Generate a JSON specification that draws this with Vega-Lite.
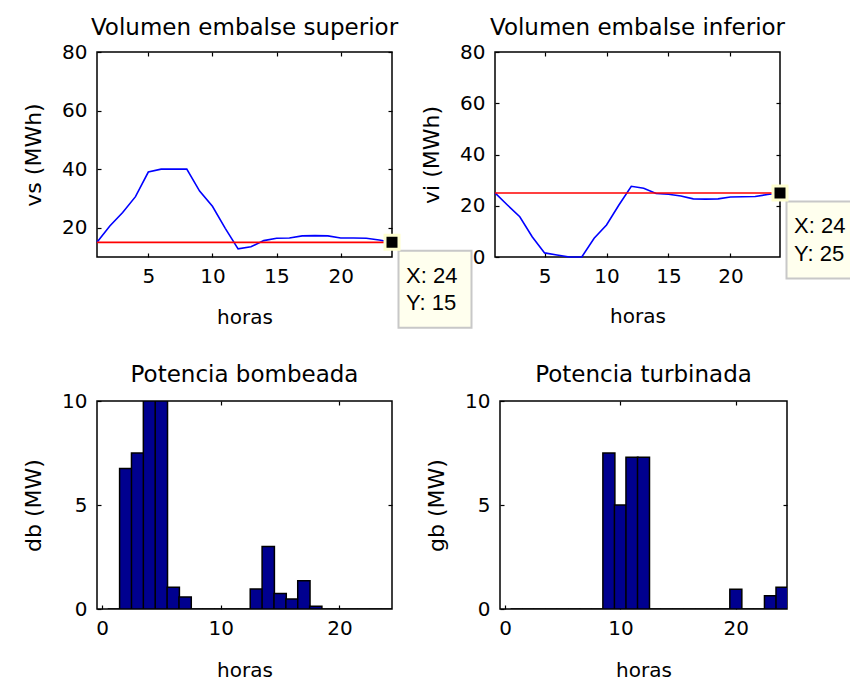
{
  "$schema": "https://vega.github.io/schema/vega-lite/v6.json",
  "background": "white",
  "padding": {"left": 21, "top": 16, "right": 0, "bottom": 0},
  "bounds": "full",
  "spacing": 30,
  "config": {
    "font": "DejaVu Sans",
    "view": {"stroke": "#000", "strokeWidth": 1.5},
    "axis": {"domain": false, "grid": false, "ticks": true, "tickSize": -4, "tickColor": "#000", "tickWidth": 1.2,
             "labelFont": "DejaVu Sans", "labelFontSize": 20, "labelColor": "#000", "labelPadding": 14,
             "titleFont": "DejaVu Sans", "titleColor": "#000", "titleFontWeight": "normal"},
    "axisX": {"titleFontSize": 20, "titleBaseline": "alphabetic", "labelFlush": false, "labelOverlap": false, "labelPadding": 13},
    "axisY": {"titleFontSize": 22, "titleBaseline": "alphabetic", "titleX": -57, "titleAngle": 270, "labelFlush": false, "labelOverlap": false},
    "title": {"font": "DejaVu Sans", "fontSize": 23, "fontWeight": "normal", "color": "#000", "anchor": "middle", "baseline": "alphabetic", "frame": "group"}
  },
  "datasets": {
    "hourly": [
      {"h": 1, "vs": 15, "vi": 25, "db": 0, "gb": 0},
      {"h": 2, "vs": 20.6, "vi": 20.3, "db": 6.75, "gb": 0},
      {"h": 3, "vs": 25.2, "vi": 15.7, "db": 7.5, "gb": 0},
      {"h": 4, "vs": 30.6, "vi": 7.9, "db": 10, "gb": 0},
      {"h": 5, "vs": 39.0, "vi": 1.6, "db": 10, "gb": 0},
      {"h": 6, "vs": 40, "vi": 0.8, "db": 1.05, "gb": 0},
      {"h": 7, "vs": 40, "vi": 0, "db": 0.58, "gb": 0},
      {"h": 8, "vs": 40, "vi": 0, "db": 0, "gb": 0},
      {"h": 9, "vs": 32.5, "vi": 7.3, "db": 0, "gb": 7.5},
      {"h": 10, "vs": 27.3, "vi": 12.5, "db": 0, "gb": 5.0},
      {"h": 11, "vs": 19.8, "vi": 20.3, "db": 0, "gb": 7.3},
      {"h": 12, "vs": 12.8, "vi": 27.6, "db": 0, "gb": 7.3},
      {"h": 13, "vs": 13.5, "vi": 26.8, "db": 0.96, "gb": 0},
      {"h": 14, "vs": 15.6, "vi": 24.8, "db": 3.0, "gb": 0},
      {"h": 15, "vs": 16.4, "vi": 24.5, "db": 0.74, "gb": 0},
      {"h": 16, "vs": 16.5, "vi": 23.8, "db": 0.48, "gb": 0},
      {"h": 17, "vs": 17.2, "vi": 22.7, "db": 1.36, "gb": 0},
      {"h": 18, "vs": 17.3, "vi": 22.6, "db": 0.13, "gb": 0},
      {"h": 19, "vs": 17.2, "vi": 22.7, "db": 0, "gb": 0},
      {"h": 20, "vs": 16.5, "vi": 23.4, "db": 0, "gb": 0.95},
      {"h": 21, "vs": 16.5, "vi": 23.5, "db": 0, "gb": 0},
      {"h": 22, "vs": 16.4, "vi": 23.6, "db": 0, "gb": 0},
      {"h": 23, "vs": 15.8, "vi": 24.4, "db": 0, "gb": 0.64},
      {"h": 24, "vs": 15, "vi": 25, "db": 0, "gb": 1.04}
    ],
    "ref": [
      {"h": 1, "vs_obj": 15, "vi_obj": 25},
      {"h": 24, "vs_obj": 15, "vi_obj": 25}
    ],
    "tip_s": [{"h": 24, "v": 15, "tip": "X: 24\nY: 15"}],
    "tip_i": [{"h": 24, "v": 25, "tip": "X: 24\nY: 25"}]
  },
  "vconcat": [
    {
      "bounds": "flush",
      "spacing": 103,
      "hconcat": [
        {
          "width": 295,
          "height": 205,
          "title": {"text": "Volumen embalse superior", "offset": 2},
          "layer": [
            {
              "data": {"name": "hourly"},
              "mark": {"type": "line", "color": "#0000FF", "strokeWidth": 1.6},
              "encoding": {
                "x": {"field": "h", "type": "quantitative", "scale": {"domain": [1, 24], "nice": false, "zero": false},
                      "axis": {"orient": "bottom", "values": [5, 10, 15, 20], "title": "horas", "titleY": 66}},
                "y": {"field": "vs", "type": "quantitative", "scale": {"domain": [10, 80], "nice": false, "zero": false},
                      "axis": {"orient": "left", "values": [20, 40, 60, 80], "title": "vs (MWh)"}}
              }
            },
            {
              "data": {"name": "ref"},
              "mark": {"type": "line", "color": "#FF0000", "strokeWidth": 1.6},
              "encoding": {
                "x": {"field": "h", "type": "quantitative", "axis": {"orient": "top", "labels": false, "title": null, "values": [5, 10, 15, 20]}},
                "y": {"field": "vs_obj", "type": "quantitative", "axis": {"orient": "right", "labels": false, "title": null, "values": [20, 40, 60, 80]}}
              }
            },
            {
              "data": {"name": "tip_s"},
              "mark": {"type": "point", "shape": "M-1,-1.055H1V1.055H-1Z", "size": 5329, "filled": true, "fill": "#FFFFEE", "stroke": "#C8C8C8", "strokeWidth": 2, "opacity": 1, "xOffset": 43, "yOffset": 47},
              "encoding": {
                "x": {"field": "h", "type": "quantitative", "axis": null},
                "y": {"field": "v", "type": "quantitative", "axis": null}
              }
            },
            {
              "data": {"name": "tip_s"},
              "mark": {"type": "text", "align": "left", "baseline": "alphabetic", "lineBreak": "\n", "lineHeight": 27.5, "xOffset": 14, "yOffset": 40.5, "font": "Liberation Sans", "fontSize": 22, "color": "#000"},
              "encoding": {
                "x": {"field": "h", "type": "quantitative", "axis": null},
                "y": {"field": "v", "type": "quantitative", "axis": null},
                "text": {"field": "tip", "type": "nominal"}
              }
            },
            {
              "data": {"name": "tip_s"},
              "mark": {"type": "point", "shape": "square", "size": 196, "filled": true, "fill": "#000", "stroke": "#FFFFD0", "strokeWidth": 3, "opacity": 1},
              "encoding": {
                "x": {"field": "h", "type": "quantitative", "axis": null},
                "y": {"field": "v", "type": "quantitative", "axis": null}
              }
            }
          ],
          "resolve": {"axis": {"x": "independent", "y": "independent"}}
        },
        {
          "width": 285,
          "height": 205,
          "title": {"text": "Volumen embalse inferior", "offset": 2},
          "layer": [
            {
              "data": {"name": "hourly"},
              "mark": {"type": "line", "color": "#0000FF", "strokeWidth": 1.6},
              "encoding": {
                "x": {"field": "h", "type": "quantitative", "scale": {"domain": [1, 24], "nice": false, "zero": false},
                      "axis": {"orient": "bottom", "values": [5, 10, 15, 20], "title": "horas", "titleY": 65}},
                "y": {"field": "vi", "type": "quantitative", "scale": {"domain": [0, 80], "nice": false},
                      "axis": {"orient": "left", "values": [0, 20, 40, 60, 80], "title": "vi (MWh)"}}
              }
            },
            {
              "data": {"name": "ref"},
              "mark": {"type": "line", "color": "#FF0000", "strokeWidth": 1.6},
              "encoding": {
                "x": {"field": "h", "type": "quantitative", "axis": {"orient": "top", "labels": false, "title": null, "values": [5, 10, 15, 20]}},
                "y": {"field": "vi_obj", "type": "quantitative", "axis": {"orient": "right", "labels": false, "title": null, "values": [20, 40, 60]}}
              }
            },
            {
              "data": {"name": "tip_i"},
              "mark": {"type": "point", "shape": "M-1,-1.055H1V1.055H-1Z", "size": 5329, "filled": true, "fill": "#FFFFEE", "stroke": "#C8C8C8", "strokeWidth": 2, "opacity": 1, "xOffset": 43, "yOffset": 47},
              "encoding": {
                "x": {"field": "h", "type": "quantitative", "axis": null},
                "y": {"field": "v", "type": "quantitative", "axis": null}
              }
            },
            {
              "data": {"name": "tip_i"},
              "mark": {"type": "text", "align": "left", "baseline": "alphabetic", "lineBreak": "\n", "lineHeight": 27.5, "xOffset": 14, "yOffset": 40.5, "font": "Liberation Sans", "fontSize": 22, "color": "#000"},
              "encoding": {
                "x": {"field": "h", "type": "quantitative", "axis": null},
                "y": {"field": "v", "type": "quantitative", "axis": null},
                "text": {"field": "tip", "type": "nominal"}
              }
            },
            {
              "data": {"name": "tip_i"},
              "mark": {"type": "point", "shape": "square", "size": 196, "filled": true, "fill": "#000", "stroke": "#FFFFD0", "strokeWidth": 3, "opacity": 1},
              "encoding": {
                "x": {"field": "h", "type": "quantitative", "axis": null},
                "y": {"field": "v", "type": "quantitative", "axis": null}
              }
            }
          ],
          "resolve": {"axis": {"x": "independent", "y": "independent"}}
        }
      ]
    },
    {
      "bounds": "flush",
      "spacing": 108,
      "hconcat": [
        {
          "width": 295,
          "height": 208,
          "title": {"text": "Potencia bombeada", "offset": 4},
          "layer": [
            {
              "data": {"name": "hourly"},
              "mark": {"type": "bar", "width": 12.3, "fill": "#00008F", "stroke": "#000", "strokeWidth": 1.5, "clip": true, "opacity": 1},
              "encoding": {
                "x": {"field": "h", "type": "quantitative", "scale": {"domain": [0, 24], "nice": false},
                      "axis": {"orient": "bottom", "values": [0, 10, 20], "title": "horas", "titleY": 67}},
                "y": {"field": "db", "type": "quantitative", "scale": {"domain": [0, 10], "nice": false},
                      "axis": {"orient": "left", "values": [0, 5, 10], "title": "db (MW)"}}
              }
            },
            {
              "data": {"name": "hourly"},
              "mark": {"type": "point", "opacity": 0},
              "encoding": {
                "x": {"field": "h", "type": "quantitative", "axis": {"orient": "top", "labels": false, "title": null, "values": [10, 20]}},
                "y": {"field": "db", "type": "quantitative", "axis": {"orient": "right", "labels": false, "title": null, "values": [5]}}
              }
            }
          ],
          "resolve": {"axis": {"x": "independent", "y": "independent"}}
        },
        {
          "width": 287,
          "height": 208,
          "title": {"text": "Potencia turbinada", "offset": 4},
          "layer": [
            {
              "data": {"name": "hourly"},
              "mark": {"type": "bar", "width": 12, "fill": "#00008F", "stroke": "#000", "strokeWidth": 1.5, "clip": true, "opacity": 1},
              "encoding": {
                "x": {"field": "h", "type": "quantitative", "scale": {"domain": [0, 24], "nice": false},
                      "axis": {"orient": "bottom", "values": [0, 10, 20], "title": "horas", "titleY": 67}},
                "y": {"field": "gb", "type": "quantitative", "scale": {"domain": [0, 10], "nice": false},
                      "axis": {"orient": "left", "values": [0, 5, 10], "title": "gb (MW)"}}
              }
            },
            {
              "data": {"name": "hourly"},
              "mark": {"type": "point", "opacity": 0},
              "encoding": {
                "x": {"field": "h", "type": "quantitative", "axis": {"orient": "top", "labels": false, "title": null, "values": [10, 20]}},
                "y": {"field": "gb", "type": "quantitative", "axis": {"orient": "right", "labels": false, "title": null, "values": [5]}}
              }
            }
          ],
          "resolve": {"axis": {"x": "independent", "y": "independent"}}
        }
      ]
    }
  ]
}
